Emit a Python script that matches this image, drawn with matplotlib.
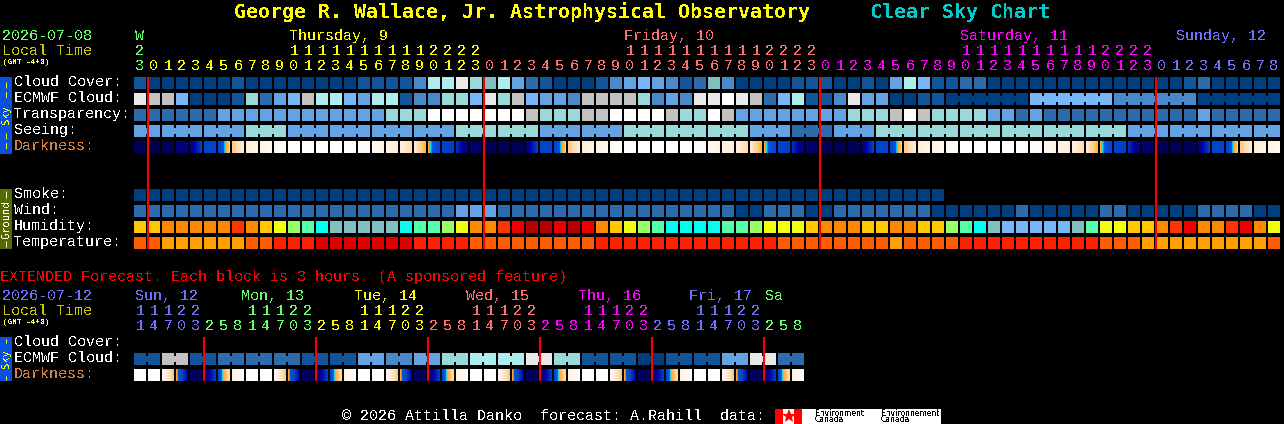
from matplotlib import pyplot as plt
from matplotlib.colors import LinearSegmentedColormap
import numpy as np

plt.rcParams['font.family'] = ['Liberation Mono', 'DejaVu Sans Mono']
plt.rcParams['text.antialiased'] = False

# shared blue/white scale used by cloud, transparency, seeing, smoke, wind
sky_colors = ['#003f7f', '#13559a', '#2c6cac', '#4a89c9', '#63a3e3', '#77b7f7',
              '#7fbfbf', '#99d9d9', '#adeded', '#c2c2c2', '#e9e9e9', '#ffffff']
humidity_colors = ['#77b7f7', '#80c0c0', '#00ffee', '#55ffaa', '#99ff66', '#eeff11',
                   '#ffc800', '#ff8800', '#ff3300', '#ee0000', '#b50000']
temp_colors = ['#ffa000', '#ff5e00', '#ff2000', '#e00000']

cloud = [1, 0, 0, 0, 0, 0, 0, 1, 0, 0, 0, 0, 0, 0, 0, 0, 1, 1, 1, 1, 3, 8, 8, 10, 7, 6, 8, 4,
         2, 1, 0, 0, 0, 1, 3, 4, 5, 4, 3, 1, 2, 6, 3, 0, 0, 0, 0, 1, 1, 1, 0, 0, 1, 0, 4, 8,
         5, 1, 1, 2, 2, 0, 0, 0, 0, 0, 0, 0, 0, 0, 0, 0, 0, 0, 0, 1, 2, 0, 0, 0, 0, 0]
ecmwf = [10, 9, 9, 5, 0, 0, 0, 1, 7, 2, 4, 5, 9, 8, 8, 5, 4, 8, 8, 1, 3, 3, 7, 7, 5, 10, 7, 9,
         5, 4, 4, 3, 9, 9, 9, 9, 7, 3, 4, 3, 10, 10, 11, 10, 9, 2, 5, 8, 1, 1, 3, 10, 4, 4,
         0, 0, 1, 1, 0, 0, 0, 0, 0, 0, 5, 5, 5, 5, 5, 5, 3, 3, 3, 3, 3, 3, 0, 0, 0, 0, 0, 0]
transparency = [2, 2, 2, 2, 2, 2, 4, 4, 4, 4, 4, 4, 4, 4, 4, 4, 4, 4, 7, 7, 7, 11, 11, 11, 11,
                11, 11, 11, 9, 7, 7, 7, 9, 9, 11, 11, 11, 11, 9, 7, 7, 11, 9, 4, 4, 4, 4, 4,
                4, 4, 4, 7, 7, 7, 9, 11, 9, 7, 7, 7, 7, 4, 4, 2, 4, 2, 2, 2, 2, 2, 2, 2, 2, 2,
                2, 2, 4, 2, 2, 2, 2, 2]
seeing = [4, 4, 4, 4, 4, 4, 4, 4, 7, 7, 7, 4, 4, 4, 4, 4, 4, 4, 4, 4, 4, 4, 4, 7, 7, 7, 7, 7, 7,
          4, 4, 4, 4, 4, 4, 7, 7, 7, 7, 7, 7, 7, 7, 7, 4, 4, 4, 2, 2, 2, 4, 4, 4, 7, 7, 7, 7, 7,
          7, 7, 7, 7, 7, 7, 7, 7, 7, 7, 7, 7, 7, 4, 4, 4, 4, 4, 4, 4, 4, 4, 4, 4]
smoke = [0] * 58
wind = [2, 2, 2, 2, 2, 2, 2, 2, 2, 2, 2, 2, 2, 2, 2, 2, 2, 2, 2, 2, 2, 2, 2, 4, 4, 4, 2, 2, 2, 2,
        2, 2, 2, 2, 2, 2, 2, 2, 2, 2, 2, 2, 2, 0, 0, 2, 2, 2, 0, 0, 2, 2, 2, 2, 2, 2, 2, 0, 0, 0,
        0, 0, 0, 2, 0, 0, 0, 0, 0, 2, 2, 0, 0, 0, 0, 0, 2, 2, 2, 2, 0, 0]
humidity = [6, 6, 7, 7, 7, 7, 7, 8, 7, 6, 5, 4, 3, 2, 1, 1, 1, 1, 1, 2, 3, 3, 4, 5, 7, 7, 8, 9,
            10, 10, 9, 10, 9, 7, 6, 5, 4, 3, 2, 2, 2, 2, 3, 3, 4, 5, 5, 5, 6, 7, 7, 7, 6, 6, 7,
            7, 6, 6, 4, 3, 2, 1, 0, 0, 0, 0, 0, 1, 3, 5, 5, 6, 6, 7, 8, 9, 7, 7, 8, 9, 7, 5]
temperature = [1, 1, 0, 0, 0, 0, 0, 0, 1, 1, 2, 2, 2, 3, 3, 3, 3, 3, 3, 3, 2, 2, 2, 2, 1, 1, 1, 1,
               1, 1, 1, 1, 1, 2, 2, 2, 2, 2, 2, 2, 2, 2, 2, 2, 2, 2, 1, 1, 1, 1, 1, 1, 1, 1, 0, 1,
               1, 1, 1, 2, 2, 2, 2, 2, 2, 2, 2, 2, 2, 1, 1, 1, 0, 0, 0, 0, 0, 0, 0, 0, 0, 1]

# darkness at the left and right edge of every block, 0 = night, 1 = daylight
dark_left = [.03, 0, .04, .1,
             .13, .36, .34, .66, .8, .88, .93, 1, 1, 1, 1, 1, .97, .95, .86, .82, .78, .57, .36, .3, .08, .02, .02, .03,
             .13, .36, .34, .66, .8, .88, .93, 1, 1, 1, 1, 1, .97, .95, .86, .82, .78, .57, .36, .3, .08, .02, .02, .03,
             .13, .36, .34, .66, .8, .88, .93, 1, 1, 1, 1, 1, .97, .95, .86, .82, .78, .57, .36, .3, .08, .02, .02, .03,
             .13, .36, .34, .66, .8, .88]
dark_right = [.03, 0, .04, .1,
              .34, .36, .67, .8, .88, .93, 1, 1, 1, 1, 1, 1, .95, .88, .8, .72, .6, .37, .34, .1, .04, .02, .02, .03,
              .34, .36, .67, .8, .88, .93, 1, 1, 1, 1, 1, 1, .95, .88, .8, .72, .6, .37, .34, .1, .04, .02, .02, .03,
              .34, .36, .67, .8, .88, .93, 1, 1, 1, 1, 1, 1, .95, .88, .8, .72, .6, .37, .34, .1, .04, .02, .02, .03,
              .34, .36, .67, .8, .88, .93]

# 6 hour groups are joined together in the picture
seeing_groups = [2, 3, 3, 3, 3, 3, 3, 3, 3, 3, 3, 3, 3, 3, 3, 3, 3, 3, 3, 3, 3, 3, 3, 3, 3, 3, 3, 2]
ecmwf_groups = [1] * 58 + [6, 6, 6, 6]

ext_ecmwf = [1, 1, 9, 9, 1, 1, 2, 2, 2, 2, 2, 2, 1, 1, 1, 1, 4, 4, 3, 3, 4, 4, 7, 7,
             8, 8, 8, 8, 10, 10, 7, 7, 1, 1, 1, 1, 0, 0, 1, 1, 1, 1, 4, 4, 10, 10, 2, 2]
ext_groups = [2] * 24
ext_dark_left = [1, .96, .9, .56, .06, .08, .42, .84, 1, .96, .9, .56, .06, .08, .42, .84,
                 1, .96, .9, .56, .06, .08, .42, .84, 1, .96, .9, .56, .06, .08, .42, .84,
                 1, .96, .9, .56, .06, .08, .42, .84, 1, .96, .9, .56, .06, .08, .42, .84]
ext_dark_right = [1, 1, .66, .18, .02, .34, .74, .97, 1, 1, .66, .18, .02, .34, .74, .97,
                  1, 1, .66, .18, .02, .34, .74, .97, 1, 1, .66, .18, .02, .34, .74, .97,
                  1, 1, .66, .18, .02, .34, .74, .97, 1, 1, .66, .18, .02, .34, .74, .97]

green = '#66ff66'
yellow = '#ffff00'
salmon = '#ff7070'
magenta = '#ff00ff'
violet = '#7070ff'

hour_tens = ['2'] + [' '] * 10 + ['1'] * 10 + ['2'] * 4 + [' '] * 10 + ['1'] * 10 + ['2'] * 4 \
    + [' '] * 10 + ['1'] * 10 + ['2'] * 4 + [' '] * 9
hour_units = list('3012345678901234567890123012345678901234567890123012345678901234567890123012345678')
hour_colors = [green] + [yellow] * 24 + [salmon] * 24 + [magenta] * 24 + [violet] * 9
day_names = ['W', 'Thursday, 9', 'Friday, 10', 'Saturday, 11', 'Sunday, 12']
day_colors = [green, yellow, salmon, magenta, violet]

ext_tens = list('11122   11122   11122   11122   11122   11122   ')
ext_units = list('147032581470325814703258147032581470325814703258')[:48]
ext_colors = [violet] * 5 + [green] * 8 + [yellow] * 8 + [salmon] * 8 + [magenta] * 8 + [violet] * 8 + [green] * 3
ext_days = ['Sun, 12', 'Mon, 13', 'Tue, 14', 'Wed, 15', 'Thu, 16', 'Fri, 17', 'Sa']
ext_day_colors = [violet, green, yellow, salmon, magenta, violet, green]

left_x = 134
pitch = 14
block = 12

dark_cmap = LinearSegmentedColormap.from_list('dark', [
    (0, '#00004c'), (.1, '#00007c'), (.2, '#0000a0'), (.33, '#0040c8'), (.5, '#0058e0'),
    (.53, '#00e0ff'), (.56, '#ffa020'), (.68, '#ffd090'), (.8, '#ffeedd'), (.9, '#fff6ea'),
    (1, '#ffffff')])

fig = plt.figure(figsize=(12.84, 4.24), dpi=100, facecolor='black')
ax = fig.add_axes([0, 0, 1, 1])
ax.set_facecolor('black')
ax.axis('off')


def draw_row(values, palette, y, groups=None):
    xs = left_x + pitch * np.arange(len(values))
    cols = [palette[v] for v in values]
    ax.bar(xs, block, width=block, bottom=y, color=cols, align='edge', antialiased=False, linewidth=0)
    if groups is None:
        return
    pos = 0
    for g in groups:
        for i in range(pos, pos + g - 1):
            ax.bar(xs[i] + block, 6, width=2, bottom=y + 3, color=cols[i], align='edge',
                   antialiased=False, linewidth=0)
        pos += g


def draw_dark(left, right, y):
    for i in range(len(left)):
        x = left_x + pitch * i
        strip = np.linspace(left[i], right[i], block).reshape(1, -1)
        ax.imshow(strip, cmap=dark_cmap, vmin=0, vmax=1, extent=(x, x + block, y + block, y),
                  aspect='auto', interpolation='nearest')


def label(x, y, s, color='white', size=10.8, **kw):
    ax.text(x, y + 1, s, color=color, fontsize=size, va='center', ha=kw.pop('ha', 'left'), **kw)


draw_row(cloud, sky_colors, 77)
draw_row(ecmwf, sky_colors, 93, ecmwf_groups)
draw_row(transparency, sky_colors, 109)
draw_row(seeing, sky_colors, 125, seeing_groups)
draw_dark(dark_left, dark_right, 141)
draw_row(smoke, sky_colors, 189)
draw_row(wind, sky_colors, 205)
draw_row(humidity, humidity_colors, 221)
draw_row(temperature, temp_colors, 237)
draw_row(ext_ecmwf, sky_colors, 353, ext_groups)
draw_dark(ext_dark_left, ext_dark_right, 369)

# midnight lines
ax.vlines([147.5, 483.5, 819.5, 1155.5], 77, 249, color='#ff0000', linewidth=1.5)
ax.vlines([204, 316, 428, 540, 652, 764], 337, 381, color='#ff0000', linewidth=1.5)

label(234, 11, 'George R. Wallace, Jr. Astrophysical Observatory', '#ffff00', 14.3,
      fontweight='bold', family='DejaVu Sans Mono')
label(870, 11, 'Clear Sky Chart', '#00cccc', 14.3, fontweight='bold', family='DejaVu Sans Mono')

label(2, 35, '2026-07-08', green)
label(2, 50, 'Local Time', '#c8c800')
label(3, 61, '(GMT -4+0)', '#ffff66', 5.6)
for name, x, c in zip(day_names, [135, 289, 624, 960, 1176], day_colors):
    label(x, 35, name, c)
for i in range(len(hour_units)):
    x = left_x + pitch * i + 6
    label(x, 50, hour_tens[i], hour_colors[i], ha='center')
    label(x, 65, hour_units[i], hour_colors[i], ha='center')

row_names = ['Cloud Cover:', 'ECMWF Cloud:', 'Transparency:', 'Seeing:']
for name, y in zip(row_names, [81, 97, 113, 129]):
    label(14, y, name)
label(14, 145, 'Darkness:', '#d8803c')
for name, y in zip(['Smoke:', 'Wind:', 'Humidity:', 'Temperature:'], [193, 209, 225, 241]):
    label(14, y, name)

label(0, 276, 'EXTENDED Forecast. Each block is 3 hours. (A sponsored feature)', '#ff0000')
label(2, 295, '2026-07-12', violet)
label(2, 310, 'Local Time', '#c8c800')
label(3, 321, '(GMT -4+0)', '#ffff66', 5.6)
for name, x, c in zip(ext_days, [135, 241, 354, 466, 578, 689, 765], ext_day_colors):
    label(x, 295, name, c)
for i in range(len(ext_units)):
    x = left_x + pitch * i + 6
    label(x, 310, ext_tens[i], ext_colors[i], ha='center')
    label(x, 325, ext_units[i], ext_colors[i], ha='center')
label(14, 341, 'Cloud Cover:')
label(14, 357, 'ECMWF Cloud:')
label(14, 373, 'Darkness:', '#d8803c')

# side bars
ax.bar(0, 77, width=12, bottom=77, color='#0a50e0', align='edge', linewidth=0, antialiased=False)
ax.bar(0, 60, width=12, bottom=189, color='#556b00', align='edge', linewidth=0, antialiased=False)
ax.bar(0, 44, width=12, bottom=337, color='#0a50e0', align='edge', linewidth=0, antialiased=False)
ax.vlines(6, 82, 100, color='#ffff00', linewidth=.7, linestyle=(0, (6, 4)))
ax.vlines(6, 133, 151, color='#ffff00', linewidth=.7, linestyle=(0, (6, 4)))
ax.vlines(6, 191, 198, color='white', linewidth=.7)
ax.vlines(6, 241, 247, color='white', linewidth=.7)
ax.vlines(6, 339, 343, color='#ffff00', linewidth=.7)
ax.vlines(6, 376, 380, color='#ffff00', linewidth=.7)
ax.text(6, 115, 'Sky', color='#ffff00', fontsize=7.5, rotation=90, ha='center', va='center',
        family='DejaVu Sans Mono')
ax.text(6, 219, 'Ground', color='white', fontsize=7.5, rotation=90, ha='center', va='center',
        family='DejaVu Sans Mono')
ax.text(6, 359, 'Sky', color='#ffff00', fontsize=7.5, rotation=90, ha='center', va='center',
        family='DejaVu Sans Mono')

label(342, 415, '\u00a9 2026 Attilla Danko  forecast: A.Rahill  data:')

# environment canada logo
ax.bar(775, 15, width=166, bottom=409, color='white', align='edge', linewidth=0, antialiased=False)
ax.bar([775, 794], 15, width=8, bottom=409, color='#ff0000', align='edge', linewidth=0, antialiased=False)
ax.plot([788.5], [416], marker='*', color='#ff0000', markersize=10, markeredgewidth=0)
for x, word in zip([815, 881], ['Environment', 'Environnement']):
    ax.text(x, 413, word, color='black', fontsize=5.5, family='DejaVu Sans', va='center')
    ax.text(x, 420, 'Canada', color='black', fontsize=5.5, family='DejaVu Sans', va='center')

ax.set_xlim(0, 1284)
ax.set_ylim(424, 0)
fig.savefig('out.png', dpi=100, facecolor='black')
